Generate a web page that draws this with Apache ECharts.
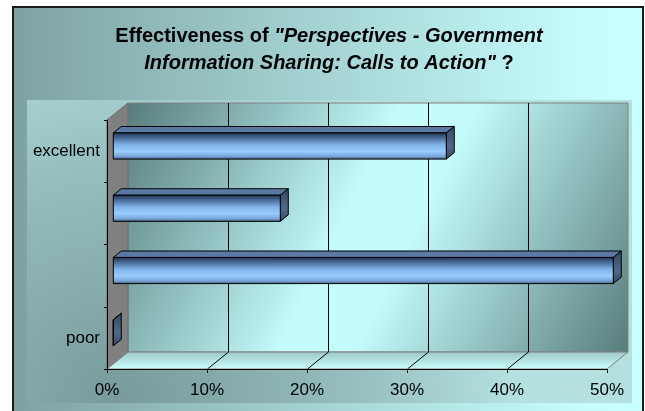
<!DOCTYPE html>
<html>
<head>
<meta charset="utf-8">
<script src="https://cdn.jsdelivr.net/npm/echarts@6/dist/echarts.min.js"></script>
<style>
html, body { margin: 0; padding: 0; background: #fff; }
#chart { width: 645px; height: 411px; }
</style>
</head>
<body>
<div id="chart"></div>
<script>
// answers, bottom to top (the two middle points of the scale have no label)
const ratings = ['poor', '', '', 'excellent'];
const shares = [0, 50, 16.7, 33.3];
const pctTicks = [0, 10, 20, 30, 40, 50];

const FONT = '"Liberation Sans", Arial, sans-serif';
const DEPTH = [21, -17];            // back wall offset from the front plane
const BAR_NEAR = 0.3, BAR_FAR = 0.68;

const chart = echarts.init(document.getElementById('chart'));

const backWallFill = new echarts.graphic.LinearGradient(0, 0, 1, 1, [
    { offset: 0, color: '#587c7c' },
    { offset: 0.44, color: '#c4fbfb' },
    { offset: 0.56, color: '#c4fbfb' },
    { offset: 1, color: '#587c7c' }
]);
const floorFill = new echarts.graphic.LinearGradient(0, 0, 0, 1, [
    { offset: 0, color: '#9cc6c6' },
    { offset: 1, color: '#ccffff' }
]);
const frontFill = new echarts.graphic.LinearGradient(0, 0, 0, 1, [
    { offset: 0, color: '#1e2e48' },
    { offset: 0.15, color: '#3e5c86' },
    { offset: 0.45, color: '#80b2e8' },
    { offset: 0.7, color: '#99ccff' },
    { offset: 0.88, color: '#7aa6d8' },
    { offset: 1, color: '#3a5878' }
]);
const sideFill = new echarts.graphic.LinearGradient(0, 0, 0, 1, [
    { offset: 0, color: '#33465e' },
    { offset: 0.6, color: '#51698a' },
    { offset: 1, color: '#33465e' }
]);

function wallItem(params, api) {
    const cs = params.coordSys;
    const left = cs.x, top = cs.y, right = cs.x + cs.width, bottom = cs.y + cs.height;
    const [dx, dy] = DEPTH;
    const kids = [
        { type: 'rect', shape: { x: left + dx, y: top + dy, width: cs.width, height: cs.height },
          style: { fill: backWallFill, stroke: '#808080', lineWidth: 1 } },
        { type: 'polygon', shape: { points: [[left, top], [left + dx, top + dy], [left + dx, bottom + dy], [left, bottom]] },
          style: { fill: '#808080', stroke: '#6a6a6a', lineWidth: 1 } },
        { type: 'polygon', shape: { points: [[left, bottom], [left + dx, bottom + dy], [right + dx, bottom + dy], [right, bottom]] },
          style: { fill: floorFill, stroke: '#808080', lineWidth: 1 } }
    ];
    pctTicks.slice(1, -1).forEach(t => {
        const x = Math.round(api.coord([t, 0])[0]) + 0.5;
        kids.push({ type: 'line', shape: { x1: x, y1: bottom, x2: x + dx, y2: bottom + dy },
                    style: { stroke: '#000', lineWidth: 1 } });
        kids.push({ type: 'line', shape: { x1: x + dx, y1: top + dy, x2: x + dx, y2: bottom + dy },
                    style: { stroke: '#000', lineWidth: 1 } });
    });
    return { type: 'group', children: kids };
}

function barItem(params, api) {
    const v = api.value(0), c = api.value(1);
    const p0 = api.coord([0, c]), p1 = api.coord([v, c]);
    const h = api.size([0, 1])[1] * 0.42;
    const nx = DEPTH[0] * BAR_NEAR, ny = DEPTH[1] * BAR_NEAR;
    const fx = DEPTH[0] * (BAR_FAR - BAR_NEAR), fy = DEPTH[1] * (BAR_FAR - BAR_NEAR);
    const x0 = p0[0] + nx, x1 = p1[0] + nx;
    const y0 = p0[1] + ny - h / 2, y1 = y0 + h;
    return {
        type: 'group',
        children: [
            { type: 'polygon', shape: { points: [[x0, y0], [x1, y0], [x1 + fx, y0 + fy], [x0 + fx, y0 + fy]] },
              style: { fill: '#5a7aa4', stroke: '#000', lineWidth: 1 } },
            { type: 'polygon', shape: { points: [[x1, y0], [x1 + fx, y0 + fy], [x1 + fx, y1 + fy], [x1, y1]] },
              style: { fill: sideFill, stroke: '#000', lineWidth: 1 } },
            { type: 'rect', shape: { x: x0, y: y0, width: x1 - x0, height: h },
              style: { fill: frontFill, stroke: '#000', lineWidth: 1 } }
        ]
    };
}

const option = {
    animation: false,
    graphic: [
        {
            type: 'rect', z: -10,
            shape: { x: 13, y: 7, width: 630, height: 420 },
            style: {
                fill: new echarts.graphic.LinearGradient(0, 0, 1, 0, [
                    { offset: 0, color: '#7ea2a2' },
                    { offset: 0.9, color: '#c6fcfc' },
                    { offset: 1, color: '#c8ffff' }
                ]),
                stroke: '#1a1a1a', lineWidth: 2
            }
        },
        {
            type: 'rect', z: -9,
            shape: { x: 27, y: 100, width: 605, height: 303 },
            style: {
                fill: new echarts.graphic.RadialGradient(0.15, 1, 1.3, [
                    { offset: 0, color: '#789a9a' },
                    { offset: 0.6, color: '#96bebe' },
                    { offset: 1, color: '#b4e0e0' }
                ])
            }
        }
    ],
    title: {
        left: 324,
        top: 18,
        textAlign: 'center',
        text: '{b|Effectiveness of }{bi|"Perspectives - Government}\n{bi|Information Sharing: Calls to Action"}{b| ?}',
        textStyle: {
            fontFamily: FONT, fontSize: 20, fontWeight: 'bold', color: '#000', lineHeight: 27,
            rich: {
                b: { fontFamily: FONT, fontSize: 20, fontWeight: 'bold', color: '#000', lineHeight: 27 },
                bi: { fontFamily: FONT, fontSize: 20, fontWeight: 'bold', fontStyle: 'italic', color: '#000', lineHeight: 27 }
            }
        }
    },
    grid: { left: 107, top: 120, width: 500, height: 249, outerBoundsMode: 'none' },
    xAxis: {
        type: 'value',
        min: 0, max: 50, interval: 10,
        z: 5,
        axisLine: { show: true, lineStyle: { color: '#000', width: 1 } },
        axisTick: { show: true, length: 4, lineStyle: { color: '#000' } },
        splitLine: { show: false },
        axisLabel: { formatter: '{value}%', fontFamily: FONT, fontSize: 17, color: '#000', margin: 13 }
    },
    yAxis: {
        type: 'category',
        data: ratings,
        z: 5,
        axisLine: { show: true, lineStyle: { color: '#000', width: 1 } },
        axisTick: { show: true, length: 3, lineStyle: { color: '#000' } },
        axisLabel: { interval: 0, fontFamily: FONT, fontSize: 17, color: '#000', margin: 7 }
    },
    series: [
        {
            type: 'custom', name: 'walls', z: 1, silent: true,
            renderItem: wallItem,
            data: [[0, 0]]
        },
        {
            type: 'custom', name: 'share', z: 2,
            renderItem: barItem,
            encode: { x: 0, y: 1 },
            data: shares.map((v, i) => [v, i])
        }
    ]
};

chart.setOption(option);
</script>
</body>
</html>
